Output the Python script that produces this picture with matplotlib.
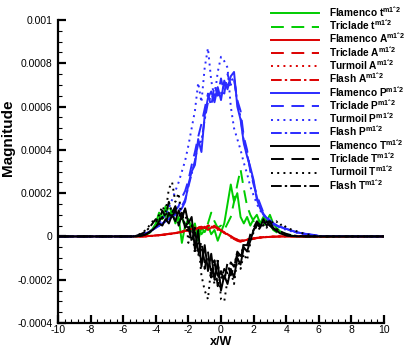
import numpy as np
import matplotlib
matplotlib.use("Agg")
import matplotlib.pyplot as plt
from matplotlib.ticker import MultipleLocator
from matplotlib import font_manager

names = {f.name for f in font_manager.fontManager.ttflist}
NARROW = 'Liberation Sans Narrow' if 'Liberation Sans Narrow' in names else 'Liberation Sans'

plt.rcParams['font.family'] = ['Liberation Sans', 'DejaVu Sans']
plt.rcParams['mathtext.fontset'] = 'custom'
plt.rcParams['mathtext.rm'] = NARROW

# grid (x/W); values below are in units of 1e-4
x_inner = np.round(np.arange(-6.0, 6.001, 0.2), 1)
x = np.concatenate(([-10.0], x_inner, [10.0]))

flamenco_t = [0, 0, 0, 0, 0, 0.02, 0.05, 0.1, 0.2, 0.35,
              0.6, 1.1, 0.8, 1.4, 0.9, 1.2, 0.6, 0.9, -0.3, 0.5,
              0.8, 0.3, 0.6, -0.2, 0.4, 0.2, 0.5, 0.1, 0.3, -0.2,
              0.2, 0.6, 1.5, 2.4, 1.6, 2.0, 0.9, 0.6, 0.9, 0.5,
              0.8, 1.0, 0.6, 0.9, 0.7, 1.0, 0.6, 0.4, 0.25, 0.15,
              0.1, 0.05, 0.03, 0.01, 0, 0, 0, 0, 0, 0, 0]
triclade_t = [0, 0, 0, 0, 0, 0.02, 0.05, 0.08, 0.15, 0.3,
              0.5, 0.8, 1.2, 0.9, 1.5, 1.0, 1.1, 0.7, 0.9, 0.4,
              0.7, 0.5, 0.2, 0.4, 0.1, 0.3, 0.6, 1.1, 0.7, 0.4,
              0.5, 0.3, 0.6, 0.9, 1.6, 2.4, 3.1, 2.2, 1.4, 1.0,
              0.7, 0.9, 0.6, 0.7, 0.4, 0.6, 0.3, 0.2, 0.12, 0.08,
              0.05, 0.02, 0, 0, 0, 0, 0, 0, 0, 0, 0]

flamenco_A = [0, 0, 0, 0, 0, 0, 0, 0.01, 0.02, 0.03,
              0.05, 0.06, 0.08, 0.1, 0.12, 0.14, 0.15, 0.18, 0.2, 0.25,
              0.3, 0.35, 0.3, 0.4, 0.35, 0.45, 0.3, 0.4, 0.5, 0.35,
              0.3, 0.15, 0.1, 0.0, -0.1, -0.15, -0.2, -0.2, -0.15, -0.12,
              -0.1, -0.08, -0.05, -0.04, -0.03, -0.02, -0.015, -0.01, -0.005, 0,
              0, 0, 0, 0, 0, 0, 0, 0, 0, 0, 0]
triclade_A = [0, 0, 0, 0, 0, 0, 0, 0.01, 0.02, 0.03,
              0.04, 0.05, 0.07, 0.09, 0.11, 0.13, 0.16, 0.2, 0.22, 0.28,
              0.25, 0.38, 0.32, 0.42, 0.45, 0.38, 0.5, 0.42, 0.48, 0.4,
              0.25, 0.2, 0.05, -0.05, -0.12, -0.2, -0.25, -0.18, -0.2, -0.1,
              -0.12, -0.06, -0.06, -0.03, -0.03, -0.02, -0.01, -0.01, 0, 0,
              0, 0, 0, 0, 0, 0, 0, 0, 0, 0, 0]
turmoil_A = [0, 0, 0, 0, 0, 0, 0, 0, 0.01, 0.02,
             0.03, 0.05, 0.06, 0.08, 0.1, 0.12, 0.15, 0.17, 0.22, 0.26,
             0.32, 0.3, 0.42, 0.36, 0.5, 0.4, 0.55, 0.35, 0.45, 0.3,
             0.35, 0.1, 0.12, -0.05, -0.08, -0.18, -0.15, -0.22, -0.12, -0.14,
             -0.08, -0.09, -0.04, -0.05, -0.02, -0.02, -0.01, 0, 0, 0,
             0, 0, 0, 0, 0, 0, 0, 0, 0, 0, 0]
flash_A = [0, 0, 0, 0, 0, 0, 0, 0.01, 0.02, 0.03,
           0.04, 0.06, 0.07, 0.09, 0.12, 0.13, 0.16, 0.19, 0.21, 0.27,
           0.33, 0.33, 0.36, 0.38, 0.4, 0.42, 0.4, 0.45, 0.42, 0.38,
           0.28, 0.18, 0.08, 0.02, -0.08, -0.14, -0.18, -0.2, -0.16, -0.11,
           -0.09, -0.07, -0.05, -0.04, -0.03, -0.02, -0.01, -0.01, 0, 0,
           0, 0, 0, 0, 0, 0, 0, 0, 0, 0, 0]

flamenco_P = [0, 0, 0, 0, 0.02, 0.05, 0.1, 0.15, 0.2, 0.3,
              0.4, 0.5, 0.6, 0.7, 0.8, 0.9, 1.0, 1.1, 1.3, 1.6,
              2.4, 3.0, 3.3, 4.5, 3.9, 5.6, 6.4, 6.7, 6.2, 6.9,
              6.3, 7.2, 6.8, 7.4, 7.6, 6.0, 5.4, 4.3, 3.7, 3.2,
              2.6, 1.7, 1.3, 1.0, 0.85, 0.7, 0.6, 0.5, 0.45, 0.4,
              0.35, 0.3, 0.25, 0.2, 0.17, 0.14, 0.12, 0.1, 0.08, 0.05, 0.02]
triclade_P = [0, 0, 0, 0, 0.02, 0.05, 0.1, 0.15, 0.2, 0.3,
              0.4, 0.5, 0.6, 0.7, 0.85, 1.0, 1.2, 1.4, 1.8, 2.1,
              2.6, 3.3, 3.9, 4.6, 5.2, 5.9, 6.6, 6.0, 7.0, 6.5,
              7.3, 6.6, 7.5, 7.0, 7.3, 6.3, 5.8, 4.6, 4.0, 3.0,
              2.4, 1.9, 1.5, 1.1, 0.9, 0.75, 0.62, 0.52, 0.46, 0.4,
              0.35, 0.3, 0.25, 0.2, 0.16, 0.13, 0.1, 0.08, 0.06, 0.04, 0.02]
turmoil_P = [0, 0, 0, 0.01, 0.03, 0.06, 0.1, 0.15, 0.22, 0.3,
             0.45, 0.6, 0.8, 1.0, 1.3, 1.7, 2.1, 2.5, 3.0, 3.5,
             4.2, 5.0, 5.8, 7.1, 6.2, 7.8, 8.7, 7.2, 6.4, 7.6,
             8.3, 8.1, 7.8, 6.0, 5.0, 4.5, 4.0, 3.4, 2.9, 2.3,
             1.9, 1.5, 1.2, 1.0, 0.8, 0.65, 0.55, 0.48, 0.42, 0.36,
             0.3, 0.26, 0.22, 0.18, 0.15, 0.12, 0.1, 0.08, 0.05, 0.03, 0.01]
flash_P = [0, 0, 0, 0, 0.02, 0.05, 0.1, 0.15, 0.2, 0.3,
           0.4, 0.5, 0.6, 0.72, 0.82, 0.95, 1.05, 1.2, 1.4, 1.7,
           2.3, 2.9, 3.5, 4.3, 4.4, 5.4, 6.2, 6.5, 6.4, 6.7,
           6.6, 7.0, 7.0, 7.2, 7.3, 6.2, 5.5, 4.4, 3.8, 3.1,
           2.5, 1.8, 1.4, 1.05, 0.85, 0.7, 0.6, 0.5, 0.45, 0.4,
           0.35, 0.3, 0.25, 0.2, 0.17, 0.14, 0.12, 0.1, 0.08, 0.05, 0.02]

flamenco_T = [0, 0, 0, 0, 0, 0.02, 0.05, 0.1, 0.2, 0.3,
              0.45, 0.6, 0.5, 0.8, 0.6, 1.0, 0.7, 1.2, 0.8, 1.3,
              0.6, 0.9, -0.6, 0.3, -1.4, -0.4, -1.6, -0.8, -2.0, -1.2,
              -2.5, -1.8, -2.2, -1.5, -1.9, -1.0, -1.3, -0.5, -0.7, -0.2,
              0.3, 0.6, 0.4, 0.8, 0.5, 0.7, 0.4, 0.3, 0.15, 0.1,
              0.05, 0.03, 0.02, 0.01, 0, 0, 0, 0, 0, 0, 0]
triclade_T = [0, 0, 0, 0, 0, 0.02, 0.05, 0.1, 0.18, 0.3,
              0.4, 0.7, 0.9, 0.6, 1.1, 0.8, 1.3, 0.5, 1.0, 0.4,
              0.7, -0.3, 0.4, -0.9, -0.2, -1.5, -0.7, -1.9, -1.1, -2.3,
              -1.6, -2.1, -1.2, -1.8, -1.4, -0.8, -1.1, -0.3, -0.5, 0.1,
              0.4, 0.7, 0.5, 0.6, 0.6, 0.5, 0.35, 0.25, 0.15, 0.1,
              0.05, 0.03, 0.02, 0.01, 0, 0, 0, 0, 0, 0, 0]
turmoil_T = [0, 0, 0, 0, 0.05, 0.1, 0.2, 0.3, 0.5, 0.7,
             0.6, 1.0, 1.4, 1.1, 2.2, 2.5, 1.6, 2.0, 0.8, 1.3,
             -0.3, 0.5, -0.8, -0.2, -1.8, -2.5, -2.9, -1.4, -2.2, -1.0,
             -2.9, -3.0, -2.0, -1.6, -2.2, -1.0, -1.5, -0.8, -1.1, -0.3,
             0.2, 0.5, 0.3, 0.7, 0.4, 0.8, 0.6, 0.7, 0.5, 0.6,
             0.4, 0.35, 0.3, 0.25, 0.2, 0.15, 0.1, 0.08, 0.05, 0.02, 0]
flash_T = [0, 0, 0, 0, 0.03, 0.08, 0.15, 0.25, 0.4, 0.6,
           0.8, 0.7, 1.2, 0.9, 1.6, 1.1, 1.4, 0.9, 1.1, 0.5,
           0.4, -0.2, 0.2, -0.7, -0.5, -1.2, -1.0, -1.6, -1.3, -1.8,
           -2.0, -1.5, -1.7, -1.2, -1.4, -0.7, -0.9, -0.4, -0.4, 0.0,
           0.3, 0.5, 0.6, 0.5, 0.7, 0.5, 0.4, 0.35, 0.25, 0.18,
           0.12, 0.08, 0.05, 0.03, 0.02, 0.01, 0, 0, 0, 0, 0]

x_ticks = [-10, -8, -6, -4, -2, 0, 2, 4, 6, 8, 10]
y_ticks = [-0.0004, -0.0002, 0, 0.0002, 0.0004, 0.0006, 0.0008, 0.001]
y_tick_labels = ['-0.0004', '-0.0002', '0', '0.0002', '0.0004', '0.0006', '0.0008', '0.001']

SCALE = 1e-4

def full(v):
    return np.concatenate(([0.0], np.asarray(v, float), [0.0])) * SCALE

GREEN = '#00cc00'
RED = '#dd0000'
BLUE = '#2b2bff'
BLACK = '#000000'

solid = '-'
dashed = (0, (6.6, 3.9))
dotted = (0, (1, 2.2))
dashdot = (0, (5.5, 1.6, 1.2, 1.6))

sup = r'$^{\mathregular{m1ˆ2}}$'
series = [
    ('Flamenco t', flamenco_t, GREEN, solid),
    ('Triclade t', triclade_t, GREEN, dashed),
    ('Flamenco A', flamenco_A, RED, solid),
    ('Triclade A', triclade_A, RED, dashed),
    ('Turmoil A', turmoil_A, RED, dotted),
    ('Flash A', flash_A, RED, dashdot),
    ('Flamenco P', flamenco_P, BLUE, solid),
    ('Triclade P', triclade_P, BLUE, dashed),
    ('Turmoil P', turmoil_P, BLUE, dotted),
    ('Flash P', flash_P, BLUE, dashdot),
    ('Flamenco T', flamenco_T, BLACK, solid),
    ('Triclade T', triclade_T, BLACK, dashed),
    ('Turmoil T', turmoil_T, BLACK, dotted),
    ('Flash T', flash_T, BLACK, dashdot),
]

W, H = 407, 362
fig = plt.figure(figsize=(W / 100, H / 100), dpi=100)
ax = fig.add_axes([58 / W, (H - 323) / H, (384 - 58) / W, (323 - 20) / H])

handles = []
for name, vals, col, ls in series:
    ln, = ax.plot(x, full(vals), color=col, linestyle=ls, lw=1.4, label=name + sup)
    handles.append(ln)

ax.set_xlim(-10, 10)
ax.set_ylim(-0.0004, 0.001)
ax.xaxis.set_minor_locator(MultipleLocator(0.4))
ax.yaxis.set_minor_locator(MultipleLocator(0.00005))
ax.set_yticks(y_ticks)
ax.set_yticklabels(y_tick_labels, fontfamily=[NARROW, 'Liberation Sans'])
ax.set_xticks(x_ticks)
ax.set_xticklabels([str(v) for v in x_ticks], fontfamily=[NARROW, 'Liberation Sans'])

for s in ['top', 'right']:
    ax.spines[s].set_visible(False)
for s in ['left', 'bottom']:
    ax.spines[s].set_linewidth(1.6)
ax.tick_params(which='major', direction='in', length=6, width=1.6, labelsize=7.5)
ax.tick_params(axis='y', which='major', pad=4)
ax.tick_params(axis='x', which='major', pad=1.5)
ax.tick_params(which='minor', direction='in', length=3, width=0.8)
ax.set_xlabel('x/W', fontsize=9, fontweight='bold', labelpad=1)
ax.set_ylabel('Magnitude', fontsize=11, fontweight='bold')
ax.yaxis.set_label_coords((15 - 58) / 326, (323 - 138) / 303)

leg = fig.legend(handles=handles, loc='upper left', bbox_to_anchor=(271 / W, 1 - 5 / H),
                 bbox_transform=fig.transFigure, frameon=False,
                 prop={'family': [NARROW, 'Liberation Sans'], 'weight': 'bold', 'size': 7.3},
                 handlelength=4.7, handletextpad=1.0,
                 labelspacing=-0.05, borderpad=0, borderaxespad=0)

fig.savefig('out.png', dpi=100)
